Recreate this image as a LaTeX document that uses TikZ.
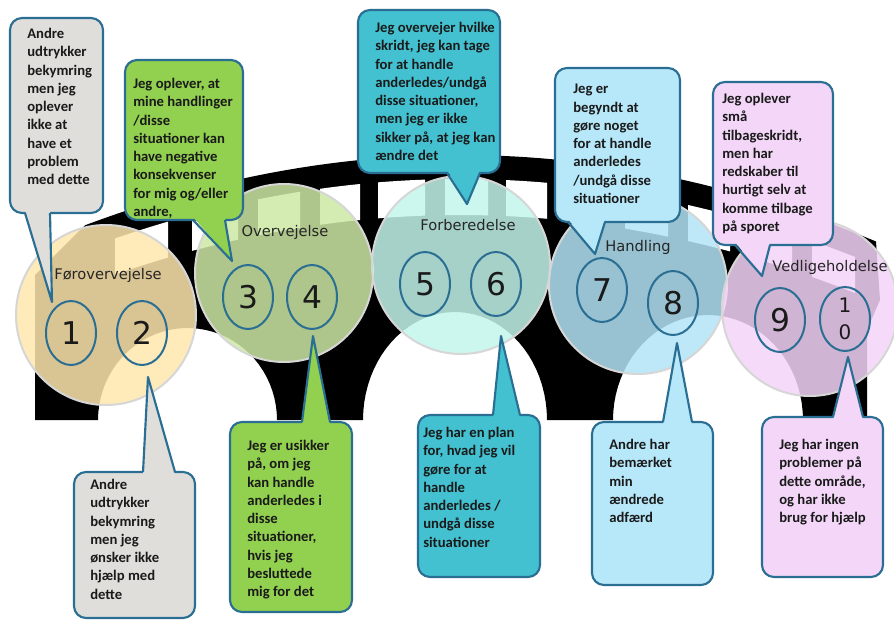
\documentclass[tikz,border=0pt]{standalone}
\usepackage{fontspec}
\setmainfont{Carlito}
\newfontfamily\stagefont{DejaVu Sans}
\usetikzlibrary{shapes.geometric}

\begin{document}
\begin{tikzpicture}[x=0.75pt,y=-0.75pt,
  declare function={deck(\t)=155+(0.02236*(\t-460))^2;},
  noteline/.style={draw=noteRim,line width=1.6pt,line join=round},
  notetext/.style={anchor=north west,inner sep=0pt,align=left,text=noteInk,
    font=\bfseries\fontsize{11}{13.7}\selectfont},
  stagedisc/.style={draw=stageRim,line width=1.5pt,fill opacity=0.85},
  stagename/.style={text=stageInk,font=\stagefont\fontsize{11}{13}\selectfont},
  numring/.style={ellipse,draw=noteRim,line width=1.5pt,minimum width=37.5pt,
    minimum height=48pt,inner sep=0pt,text=noteInk,
    font=\stagefont\fontsize{23.5}{24}\selectfont}]
\definecolor{noteRim}{HTML}{2A6F93}
\definecolor{noteInk}{HTML}{1A1A1A}
\definecolor{stageRim}{HTML}{D6D6D6}
\definecolor{stageInk}{HTML}{262626}
\definecolor{stageYellow}{HTML}{FFE7AE}
\definecolor{stageGreen}{HTML}{CDE8A4}
\definecolor{stageTeal}{HTML}{C4F6EC}
\definecolor{stageBlue}{HTML}{B3E5F6}
\definecolor{stagePink}{HTML}{F5D4F8}
\definecolor{noteGray}{HTML}{DFDEDA}
\definecolor{noteGreen}{HTML}{92D050}
\definecolor{noteTeal}{HTML}{43C1D0}
\definecolor{noteBlue}{HTML}{B7E8FA}
\definecolor{notePink}{HTML}{F3D6F8}
\useasboundingbox (0,0) rectangle (894,621);
\fill[white] (0,0) rectangle (894,621);
% bridge, arches cut into the outline
\fill[black] (35,420) -- (35,275) -- (62,248) -- plot[domain=85:876,samples=60] (\x,{deck(\x)})
  -- (880,300) -- (867,330) -- (867,420) -- (803,420)
  -- plot[domain=360:180,samples=40] ({708+95*cos(\x)},{420+105*sin(\x)}) -- (547,420)
  -- plot[domain=360:180,samples=40] ({455+92*cos(\x)},{420+108*sin(\x)}) -- (277,420)
  -- plot[domain=360:180,samples=40] ({187.5+89.5*cos(\x)},{420+92*sin(\x)}) -- cycle;
\foreach \wa/\wb in {115/168,192/238,258/300,320/360,378/425,445/488,506/547,
  562/605,625/668,688/730,750/792,812/855}
  \fill[white] plot[domain=\wa:\wb,samples=6] (\x,{deck(\x)+24})
    -- plot[domain=\wb:\wa,samples=6] (\x,{deck(\x)+60}) -- cycle;
% stages
\filldraw[stagedisc,fill=stageYellow] (106,315) circle[radius=90];
\filldraw[stagedisc,fill=stageGreen] (284,273) circle[radius=89];
\filldraw[stagedisc,fill=stageTeal] (461,265) circle[radius=89];
\filldraw[stagedisc,fill=stageBlue] (638,285) circle[radius=89];
\filldraw[stagedisc,fill=stagePink] (810,308) circle[radius=88];
\node[stagename] (l1) at (108,275) {Førovervejelse};
\node[stagename] (l2) at (285,232) {Overvejelse};
\node[stagename] (l3) at (468,225) {Forberedelse};
\node[stagename] (l4) at (638,247) {Handling};
\node[stagename] (l5) at (830,267) {Vedligeholdelse};
\node[numring] (n1) at (71,333) {1};
\node[numring] (n2) at (142,333) {2};
\node[numring] (n3) at (248,297) {3};
\node[numring] (n4) at (312,297) {4};
\node[numring] (n5) at (425,284) {5};
\node[numring] (n6) at (496,284) {6};
\node[numring] (n7) at (602,290) {7};
\node[numring] (n8) at (673,303) {8};
\node[numring] (n9) at (780,320) {9};
\node[numring,align=center,font=\stagefont\fontsize{15}{20}\selectfont] (n10) at (845,319) {1\\0};
% callouts
\foreach \xa/\ya/\xb/\yb/\ba/\bb/\by/\dy/\tx/\ty/\col in {
  10/18/103/213/25/50/213/-3/52/302/noteGray,
  125/60/243/220/193/225/220/-3/232/261/noteGreen,
  358/10/500/173/447/480/173/-3/467/204/noteTeal,
  555/68/680/222/568/605/222/-3/595/254/noteBlue,
  713/82/833/245/735/770/245/-3/762/276/notePink,
  74/472/195/618/143/175/472/3/148/377/noteGray,
  230/422/352/612/302/330/422/3/313/336/noteGreen,
  418/415/540/577/493/520/415/3/501/336/noteTeal,
  592/422/713/585/663/692/422/3/677/343/noteBlue,
  762/417/883/577/833/863/417/3/848/357/notePink}
{
  \filldraw[noteline,fill=\col,rounded corners=9pt] (\xa,\ya) rectangle (\xb,\yb);
  \fill[\col] (\ba,{\by+\dy}) -- (\tx,\ty) -- (\bb,{\by+\dy}) -- cycle;
  \draw[noteline] (\ba,\by) -- (\tx,\ty) -- (\bb,\by);
}
\node[notetext] (c1) at (27,28) {Andre\\udtrykker\\bekymring\\men jeg\\oplever\\ikke at\\have et\\problem\\med dette};
\node[notetext] (c2) at (133,78) {Jeg oplever, at\\mine handlinger\\/disse\\situationer kan\\have negative\\konsekvenser\\for mig og/eller\\andre,};
\node[notetext] (c3) at (375,22) {Jeg overvejer hvilke\\skridt, jeg kan tage\\for at handle\\anderledes/undgå\\disse situationer,\\men jeg er ikke\\sikker på, at jeg kan\\ændre det};
\node[notetext] (c4) at (573,84) {Jeg er\\begyndt at\\gøre noget\\for at handle\\anderledes\\/undgå disse\\situationer};
\node[notetext] (c5) at (722,93) {Jeg oplever\\små\\tilbageskridt,\\men har\\redskaber til\\hurtigt selv at\\komme tilbage\\på sporet};
\node[notetext] (c6) at (90,479) {Andre\\udtrykker\\bekymring\\men jeg\\ønsker ikke\\hjælp med\\dette};
\node[notetext] (c7) at (247,440) {Jeg er usikker\\på, om jeg\\kan handle\\anderledes i\\disse\\situationer,\\hvis jeg\\besluttede\\mig for det};
\node[notetext] (c8) at (423,427) {Jeg har en plan\\for, hvad jeg vil\\gøre for at\\handle\\anderledes /\\undgå disse\\situationer};
\node[notetext] (c9) at (609,439) {Andre har\\bemærket\\min\\ændrede\\adfærd};
\node[notetext] (c10) at (779,439) {Jeg har ingen\\problemer på\\dette område,\\og har ikke\\brug for hjælp};
\end{tikzpicture}
\end{document}
